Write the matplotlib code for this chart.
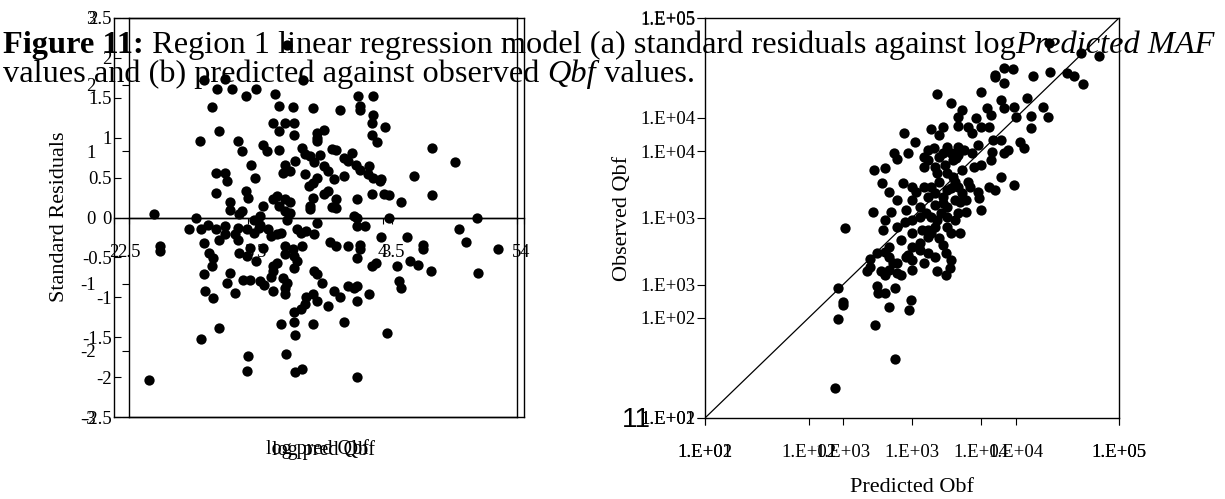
import numpy as np
import matplotlib
matplotlib.use("Agg")
import matplotlib.pyplot as plt
from matplotlib.ticker import FixedLocator, FuncFormatter, NullLocator

W, H, DPI = 1225, 499, 100
SERIF = "Liberation Serif"
plt.rcParams["font.family"] = [SERIF, "DejaVu Serif"]
plt.rcParams["axes.unicode_minus"] = False

# ---- (a) standard residuals against log predicted Qbf ----
resid_log_pred = [
    3.29, 2.67, 2.83, 3.41, 2.77, 2.88, 2.98, 3.06, 3.20, 3.82, 3.93, 2.73, 3.23, 3.33, 3.48, 3.68, 3.83, 3.83, 3.93,
    3.18, 3.27, 3.34, 3.51, 3.56, 3.92, 4.02, 3.92, 3.34, 3.23, 2.78, 2.64, 2.92, 2.95, 3.11, 3.14, 3.23, 3.40,
    3.51, 3.51, 3.62, 3.65, 3.77, 3.96, 4.37, 4.54, 3.02, 3.35, 3.27, 2.76, 2.83, 2.84, 3.05, 3.26, 3.31, 3.42,
    3.46, 3.53, 3.49, 3.56, 3.59, 3.71, 3.74, 3.80, 3.90, 3.83, 3.89, 3.93, 3.98, 3.99, 4.23, 3.42, 3.51, 3.48,
    3.45, 3.64, 3.71, 2.76, 2.98, 3.00, 3.21, 3.27, 3.31, 3.48, 3.59, 3.65, 3.56, 3.81, 3.92, 4.01, 4.05, 4.14,
    4.37, 3.46, 3.46, 3.62, 3.65, 3.23, 3.11, 3.18, 2.86, 2.86, 2.95, 2.93, 3.27, 3.31, 3.29, 3.79, 3.81, 4.05,
    4.70, 2.30, 2.61, 3.09, 3.04, 2.56, 2.70, 2.65, 2.76, 2.83, 2.92, 2.83, 2.90, 2.99, 3.04, 3.08, 3.09, 3.15,
    3.17, 3.21, 3.24, 3.36, 3.39, 3.43, 3.49, 3.51, 3.81, 3.87, 4.57, 4.62, 4.18, 3.99, 2.34, 2.34, 3.01, 2.93,
    2.99, 3.06, 3.11, 3.27, 3.33, 3.40, 3.61, 3.65, 3.74, 3.83, 3.83, 4.30, 4.30, 4.86, 2.67, 2.78, 2.92, 2.71,
    2.74, 3.21, 3.18, 3.27, 3.34, 3.36, 3.81, 3.95, 3.92, 4.11, 4.20, 4.26, 4.36, 4.71, 2.67, 2.73, 2.86, 2.84,
    2.96, 3.01, 3.09, 3.12, 3.18, 3.17, 3.26, 3.29, 3.34, 3.49, 3.55, 3.51, 4.12, 4.14, 2.68, 2.74, 2.90, 3.18,
    3.27, 3.27, 3.43, 3.48, 3.51, 3.59, 3.64, 3.68, 3.74, 3.79, 3.81, 3.81, 3.90, 3.42, 3.39, 3.34,
    3.24, 3.34, 3.48, 3.71, 3.35, 2.65, 2.78, 4.03, 3.00, 3.28, 2.99, 3.35, 3.40, 3.81, 2.26,
]
std_residuals = [
    2.16, 1.72, 1.73, 1.72, 1.61, 1.61, 1.52, 1.61, 1.55, 1.52, 1.52, 1.39, 1.40, 1.39, 1.37, 1.35, 1.40, 1.35, 1.29,
    1.19, 1.19, 1.19, 1.06, 1.10, 1.19, 1.14, 1.04, 1.04, 1.08, 1.08, 0.96, 0.96, 0.83, 0.91, 0.83, 0.85, 0.87,
    1.00, 0.96, 0.86, 0.85, 0.81, 0.94, 0.87, 0.69, 0.66, 0.71, 0.66, 0.56, 0.56, 0.46, 0.50, 0.56, 0.58, 0.79,
    0.77, 0.78, 0.69, 0.64, 0.58, 0.75, 0.71, 0.66, 0.64, 0.60, 0.54, 0.50, 0.46, 0.48, 0.52, 0.54, 0.50, 0.43,
    0.39, 0.48, 0.52, 0.31, 0.33, 0.25, 0.27, 0.23, 0.19, 0.25, 0.33, 0.23, 0.29, 0.23, 0.29, 0.29, 0.28, 0.20,
    0.28, 0.14, 0.11, 0.13, 0.12, 0.14, 0.14, 0.23, 0.19, 0.10, 0.08, 0.04, 0.08, 0.06, -0.03, 0.02, 0.00, 0.00,
    -0.01, 0.05, 0.00, 0.02, -0.03, -0.15, -0.10, -0.15, -0.15, -0.11, -0.13, -0.21, -0.21, -0.15, -0.19, -0.13, -0.09, -0.15,
    -0.23, -0.21, -0.19, -0.15, -0.19, -0.17, -0.21, -0.07, -0.11, -0.11, -0.15, -0.31, -0.24, -0.25, -0.36, -0.42, -0.38, -0.44,
    -0.48, -0.55, -0.38, -0.36, -0.40, -0.36, -0.31, -0.36, -0.36, -0.34, -0.40, -0.34, -0.40, -0.39, -0.32, -0.28, -0.28, -0.44,
    -0.51, -0.57, -0.61, -0.46, -0.48, -0.55, -0.51, -0.57, -0.61, -0.61, -0.55, -0.59, -0.67, -0.70, -0.71, -0.61, -0.69, -0.82,
    -0.78, -0.78, -0.80, -0.84, -0.67, -0.74, -0.76, -0.82, -0.63, -0.67, -0.82, -0.71, -0.79, -0.88, -0.92, -1.01, -0.95, -0.92,
    -0.88, -0.96, -0.99, -0.96, -1.05, -1.11, -0.92, -0.99, -0.86, -0.88, -0.86, -1.05, -0.96, -1.09, -1.15, -1.19,
    -1.33, -1.31, -1.33, -1.31, -1.47, -1.52, -1.39, -1.45, -1.73, -1.71, -1.92, -1.94, -1.90, -2.00, -2.04,
]

# residual axis ticks: inner frame and outer frame
resid_x_ticks_a = [2, 3, 4, 5]
resid_x_ticks_b = [2.5, 3, 3.5, 4]
resid_y_ticks_a = [-2.5, -2, -1.5, -1, -0.5, 0, 0.5, 1, 1.5, 2, 2.5]
resid_y_ticks_b = [-3, -2, -1, 0, 1, 2, 3]

# ---- (b) predicted against observed Qbf (log10 values) ----
log_pred_qbf = [
    4.490, 4.727, 4.852, 4.100, 4.164, 4.231, 4.170, 4.100, 4.379, 4.499, 4.624, 4.671, 4.741, 3.682, 3.780, 3.997,
    3.864, 3.836, 4.045, 3.961, 4.072, 4.142, 4.170, 4.240, 4.253, 4.331, 4.448, 4.485, 4.359, 4.359, 3.440, 3.524,
    3.635, 3.724, 3.696, 3.836, 3.905, 3.933, 4.003, 4.059, 4.086, 4.142, 4.281, 4.309, 3.613, 3.663, 3.724, 3.752,
    3.836, 3.877, 3.933, 3.975, 3.368, 3.468, 3.390, 3.585, 3.223, 3.306, 3.279, 3.334, 3.432, 3.501, 3.529, 3.390,
    3.460, 3.585, 3.696, 3.794, 3.822, 3.682, 3.794, 3.864, 3.947, 4.003, 4.072, 4.170, 4.198, 4.081, 4.100, 4.059,
    4.142, 4.240, 3.905, 3.975, 3.780, 3.724, 3.641, 3.669, 3.752, 3.850, 3.891, 3.989, 4.003, 3.557, 3.599, 3.641,
    3.710, 3.752, 3.217, 3.348, 3.306, 3.292, 3.390, 3.446, 3.014, 3.501, 3.571, 3.641, 3.696, 3.780, 3.850, 3.418,
    3.334, 3.724,
    3.613, 3.669, 3.738, 3.780, 3.836, 3.752, 3.696, 3.808, 3.836, 3.752, 3.669, 3.613, 3.585, 3.501, 3.557, 3.501,
    3.613, 3.669, 3.752, 3.808, 3.836, 3.891, 3.864, 3.919, 3.808, 3.724, 3.682, 3.613, 3.557, 3.501,
    3.195, 3.245, 3.306, 3.390, 3.460, 3.474, 3.557, 3.669, 3.747, 3.173, 3.273, 3.306, 3.390, 3.418, 3.682, 3.747,
    3.774, 2.964, 3.245, 3.251, 3.301, 3.379, 3.493, 3.479, 3.334, 3.000, 3.000, 2.961, 3.231, 3.379, 2.939,
    3.334, 3.362, 3.501, 3.613, 3.585, 3.501, 3.334, 3.195, 3.780,
]
log_obs_qbf = [
    4.810, 4.735, 4.715, 4.572, 4.622, 4.617, 4.510, 4.560, 4.565, 4.597, 4.585, 4.565, 4.505, 4.427, 4.360, 4.447,
    4.310, 4.260, 4.322, 4.247, 4.272, 4.385, 4.322, 4.335, 4.260, 4.402, 4.330, 4.255, 4.265, 4.177, 4.140, 4.072,
    4.165, 4.185, 4.122, 4.190, 4.185, 4.135, 4.185, 4.185, 4.085, 4.085, 4.072, 4.027, 4.010, 4.022, 3.985, 4.035,
    4.035, 4.010, 3.985, 4.047, 3.985, 3.985, 3.940, 3.885, 3.860, 3.872, 3.760, 3.697, 3.760, 3.735, 3.697, 3.635,
    3.560, 3.960, 3.960, 3.935, 3.947, 3.835, 3.810, 3.860, 3.885, 3.897, 3.935, 3.985, 4.010, 3.997, 3.710, 3.735,
    3.810, 3.747, 3.772, 3.697, 3.722, 3.660, 3.735, 3.597, 3.585, 3.622, 3.547, 3.647, 3.560, 3.585, 3.535, 3.510,
    3.535, 3.510, 3.547, 3.547, 3.485, 3.410, 3.435, 3.472, 3.427, 3.385, 3.410, 3.385, 3.347, 3.385, 3.385, 3.335,
    3.285, 3.297,
    3.935, 3.885, 3.897, 3.985, 3.972, 3.835, 3.772, 3.772, 3.735, 3.710, 3.685, 3.660, 3.735, 3.635, 3.510, 3.485,
    3.410, 3.435, 3.435, 3.485, 3.535, 3.635, 3.685, 3.735, 3.635, 3.610, 3.485, 3.360, 3.310, 3.285,
    3.190, 3.235, 3.247, 3.160, 3.210, 3.222, 3.260, 3.205, 3.235, 3.105, 3.105, 3.072, 3.085, 3.072, 3.105, 3.072,
    3.122, 2.977, 2.992, 2.935, 2.935, 2.972, 2.885, 2.810, 2.835, 2.872, 2.847, 2.745, 2.695, 2.442, 2.227,
    3.210, 3.160, 3.185, 3.235, 3.160, 3.110, 3.110, 3.135, 3.185,
]
qbf_limits_a = (1e2, 1e5)
qbf_limits_b = (1e1, 1e5)

fig = plt.figure(figsize=(W / DPI, H / DPI), dpi=DPI)


def box(x0, x1, y0, y1):
    """Pixel box (origin top-left) to a figure-fraction rectangle."""
    return [x0 / W, 1 - y1 / H, (x1 - x0) / W, (y1 - y0) / H]


def fx(x):
    return x / W


def fy(y):
    return 1 - y / H


TICK_FS = 13.5
LW = 1.0
DOT = 55


def border_bottom(ax):
    ax.plot([0, 1], [0, 0], transform=ax.transAxes, color="black", lw=LW, clip_on=False)


def plain(v, p):
    return f"{v:g}"


# panel (a): two overlaid frames
axA = fig.add_axes(box(114, 517, 18, 417))
axB = fig.add_axes(box(129, 524, 18, 417))
for ax in (axA, axB):
    ax.patch.set_visible(False)
    for sp in ax.spines.values():
        sp.set_linewidth(LW)
    ax.spines["bottom"].set_position(("data", 0))
    border_bottom(ax)
    ax.xaxis.set_minor_locator(NullLocator())
    ax.yaxis.set_minor_locator(NullLocator())
    ax.xaxis.set_major_formatter(FuncFormatter(plain))
    ax.yaxis.set_major_formatter(FuncFormatter(plain))

axA.set_xlim(2, 5)
axA.set_ylim(-2.5, 2.5)
axA.scatter(resid_log_pred, std_residuals, s=DOT, color="black", linewidths=0, zorder=3)
axA.xaxis.set_major_locator(FixedLocator(resid_x_ticks_a))
axA.yaxis.set_major_locator(FixedLocator(resid_y_ticks_a))
axA.tick_params(axis="x", direction="out", length=4, width=0.8, pad=15, labelsize=TICK_FS)
axA.tick_params(axis="y", direction="in", length=5, width=0.8, pad=1.5, labelsize=TICK_FS)

axB.set_xlim(2.5, 4)
axB.set_ylim(-3, 3)
axB.xaxis.set_major_locator(FixedLocator(resid_x_ticks_b))
axB.yaxis.set_major_locator(FixedLocator(resid_y_ticks_b))
axB.tick_params(axis="x", direction="out", length=4, width=0.8, pad=15, labelsize=TICK_FS)
axB.tick_params(axis="y", direction="out", length=5, width=0.8, pad=19, labelsize=TICK_FS)


# panel (b): two overlaid log frames
def e_label(v, p):
    return f"1.E+{int(round(np.log10(v))):02d}"


rA = fig.add_axes(box(705, 1119, 18, 418))
rB = fig.add_axes(box(705, 1119, 18, 418))
for ax, lims in ((rA, qbf_limits_a), (rB, qbf_limits_b)):
    ax.set_xscale("log")
    ax.set_yscale("log")
    ax.set_xlim(*lims)
    ax.set_ylim(*lims)
    ax.patch.set_visible(False)
    decades = 10.0 ** np.arange(np.log10(lims[0]), np.log10(lims[1]) + 1)
    for axis in (ax.xaxis, ax.yaxis):
        axis.set_major_locator(FixedLocator(decades))
        axis.set_minor_locator(NullLocator())
        axis.set_major_formatter(FuncFormatter(e_label))
    ax.tick_params(axis="x", direction="out", length=5, width=0.8, pad=14, labelsize=TICK_FS)
    ax.tick_params(axis="y", direction="out", length=6, width=0.8, pad=1, labelsize=TICK_FS)
    for sp in ax.spines.values():
        sp.set_linewidth(LW)
for sp in rB.spines.values():
    sp.set_visible(False)

rA.plot(qbf_limits_a, qbf_limits_a, color="black", lw=0.9, zorder=2)
rA.scatter(10 ** np.array(log_pred_qbf), 10 ** np.array(log_obs_qbf), s=DOT, color="black",
           linewidths=0, zorder=3)

# axis titles
fig.text(fx(60), fy(217), "Standard Residuals", rotation=90, ha="center", va="center", fontsize=16)
fig.text(fx(318), fy(449), "log pred Qbf", ha="center", va="center", fontsize=14.5)
fig.text(fx(324), fy(450), "log pred Qbf", ha="center", va="center", fontsize=14.5)
fig.text(fx(622), fy(218), "Observed Qbf", rotation=90, ha="center", va="center", fontsize=16)
fig.text(fx(912), fy(488), "Predicted Obf", ha="center", va="center", fontsize=16)
fig.text(fx(636), fy(420), "11", ha="center", va="center", fontsize=20,
         family=["Liberation Sans", "DejaVu Sans"])

# caption, drawn run by run so bold / italic pieces sit inline
renderer = fig.canvas.get_renderer()
CAP_FS = 23.3


def advance(text, **kw):
    probe = fig.text(0, 0, "|" + text + "|", fontsize=CAP_FS, **kw)
    bars = fig.text(0, 0, "||", fontsize=CAP_FS, **kw)
    w = probe.get_window_extent(renderer).width - bars.get_window_extent(renderer).width
    probe.remove()
    bars.remove()
    return w


def caption_line(x, baseline, runs):
    for text, kw in runs:
        fig.text(fx(x), fy(baseline), text, fontsize=CAP_FS, ha="left", va="baseline", zorder=5, **kw)
        x += advance(text, **kw)


normal = {}
bold = {"fontweight": "bold"}
italic = {"fontstyle": "italic"}
caption_line(3, 53, [("Figure 11:", bold),
                     (" Region 1 linear regression model (a) standard residuals against log", normal),
                     ("Predicted MAF", italic)])
caption_line(3, 82, [("values and (b) predicted against observed ", normal),
                     ("Qbf", italic),
                     (" values.", normal)])

fig.savefig("out.png", dpi=DPI)
